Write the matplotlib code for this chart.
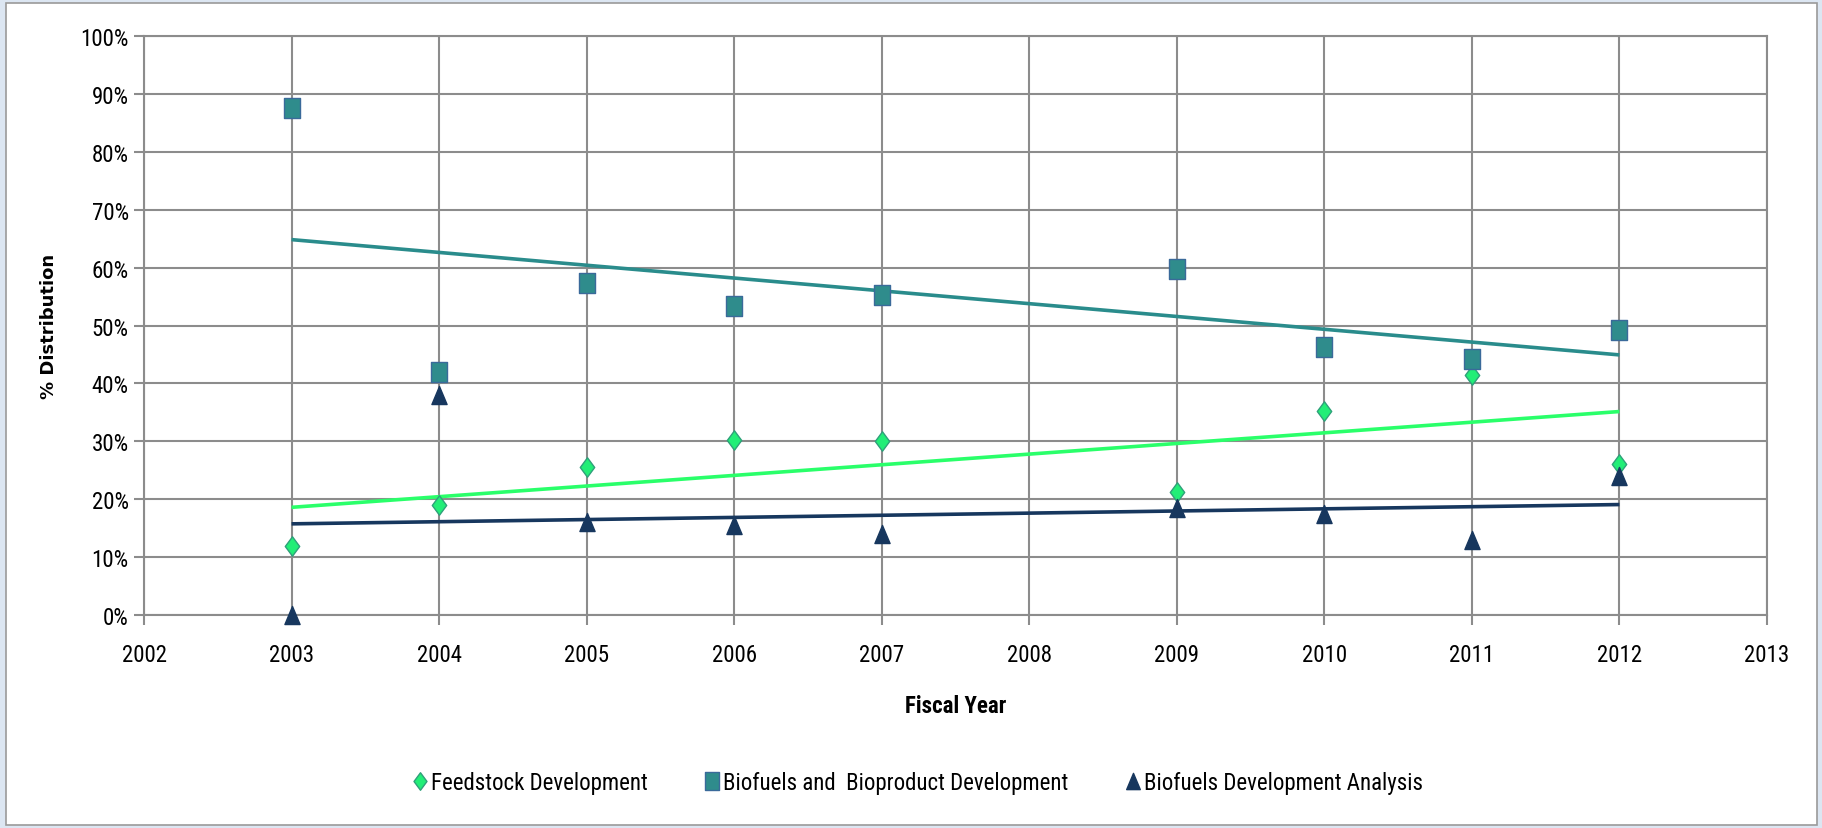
import matplotlib
matplotlib.use("Agg")
import matplotlib.pyplot as plt
import numpy as np
from matplotlib.patches import Rectangle
from matplotlib.path import Path
from matplotlib import font_manager

years = [2003, 2004, 2005, 2006, 2007, 2009, 2010, 2011, 2012]
feedstock = [12.0, 19.0, 25.5, 30.3, 30.0, 21.3, 35.3, 41.5, 26.0]
biofuels_bioproduct = [87.5, 42.0, 57.3, 53.3, 55.3, 59.7, 46.3, 44.3, 49.3]
biofuels_analysis = [0.0, 38.0, 16.0, 15.5, 14.0, 18.5, 17.5, 13.0, 24.0]
series_names = ["Feedstock Development", "Biofuels and  Bioproduct Development",
                "Biofuels Development Analysis"]
x_ticks = list(range(2002, 2014))
y_ticks = list(range(0, 101, 10))

avail = {f.name for f in font_manager.fontManager.ttflist}
fam = "Liberation Sans"
for cand in ["Liberation Sans Narrow", "Roboto Condensed", "Open Sans Condensed",
             "Arial Narrow", "Liberation Sans"]:
    if cand in avail:
        fam = cand
        break
plt.rcParams['font.family'] = [fam, 'DejaVu Sans']

W, H = 1822, 829
fig = plt.figure(figsize=(W / 100, H / 100), dpi=100)
fig.patch.set_facecolor('#DCE6F2')
fig.patches.append(Rectangle((6 / W, 3 / H), (1817 - 6) / W, (825 - 3) / H,
                             transform=fig.transFigure, facecolor='white',
                             edgecolor='#9A9A9A', linewidth=1.2, zorder=-5))

ax = fig.add_axes([144 / W, 213 / H, (1767 - 144) / W, (792 - 213) / H])
ax.set_zorder(2)
ax.set_facecolor('white')
ax.set_xlim(2002, 2013)
ax.set_ylim(0, 100)
ax.set_xticks(x_ticks)
ax.set_yticks(y_ticks)
ax.set_yticklabels([f"{v}%" for v in y_ticks])
grid_c = '#8C8C8C'
ax.grid(True, color=grid_c, linewidth=1.5, zorder=1)
ax.set_axisbelow(True)
for s in ax.spines.values():
    s.set_color(grid_c)
    s.set_linewidth(1.5)
ax.tick_params(axis='both', colors=grid_c, length=7, width=1.5, labelcolor='black',
               labelsize=16.5)
ax.tick_params(axis='x', pad=13)
ax.tick_params(axis='y', pad=4)

sq = Path([(-0.4, -0.5), (0.4, -0.5), (0.4, 0.5), (-0.4, 0.5), (-0.4, -0.5)], closed=True)
dm = Path([(0, -0.5), (0.37, 0), (0, 0.5), (-0.37, 0), (0, -0.5)], closed=True)
tr = Path([(-0.42, -0.5), (0.42, -0.5), (0, 0.5), (-0.42, -0.5)], closed=True)

specs = [
    (feedstock, dm, '#22EE77', '#2FA07A', '#2AFF6A', 14),
    (biofuels_bioproduct, sq, '#2F8C8C', '#3A6A9A', '#2A8C8C', 14.5),
    (biofuels_analysis, tr, '#17375E', '#17375E', '#17375E', 13),
]
xs = np.array(years, dtype=float)
handles = []
for (vals, mk, fc, ec, lc, ms), name in zip(specs, series_names):
    v = np.array(vals)
    a, b = np.polyfit(xs, v, 1)
    ax.plot([xs[0], xs[-1]], [a * xs[0] + b, a * xs[-1] + b], color=lc, lw=2.6,
            zorder=3, solid_capstyle='butt')
for (vals, mk, fc, ec, lc, ms), name in zip(specs, series_names):
    h, = ax.plot(years, vals, linestyle='none', marker=mk, markersize=ms,
                 markerfacecolor=fc, markeredgecolor=ec, markeredgewidth=1.0,
                 zorder=4, label=name, clip_on=False)
    handles.append(h)

ax.set_xlabel("Fiscal Year", fontsize=16.5, fontweight='bold', labelpad=20)
ax.set_ylabel("% Distribution", fontsize=13, fontweight='bold', labelpad=16,
              family='DejaVu Sans')

fig.legend(handles=handles, loc='center', bbox_to_anchor=(918 / W, 45 / H), ncol=3,
           frameon=False, fontsize=16.5, handlelength=0.6, handletextpad=0.2,
           columnspacing=2.5, markerscale=0.9)

fig.savefig("out.png", dpi=100, facecolor=fig.get_facecolor())
